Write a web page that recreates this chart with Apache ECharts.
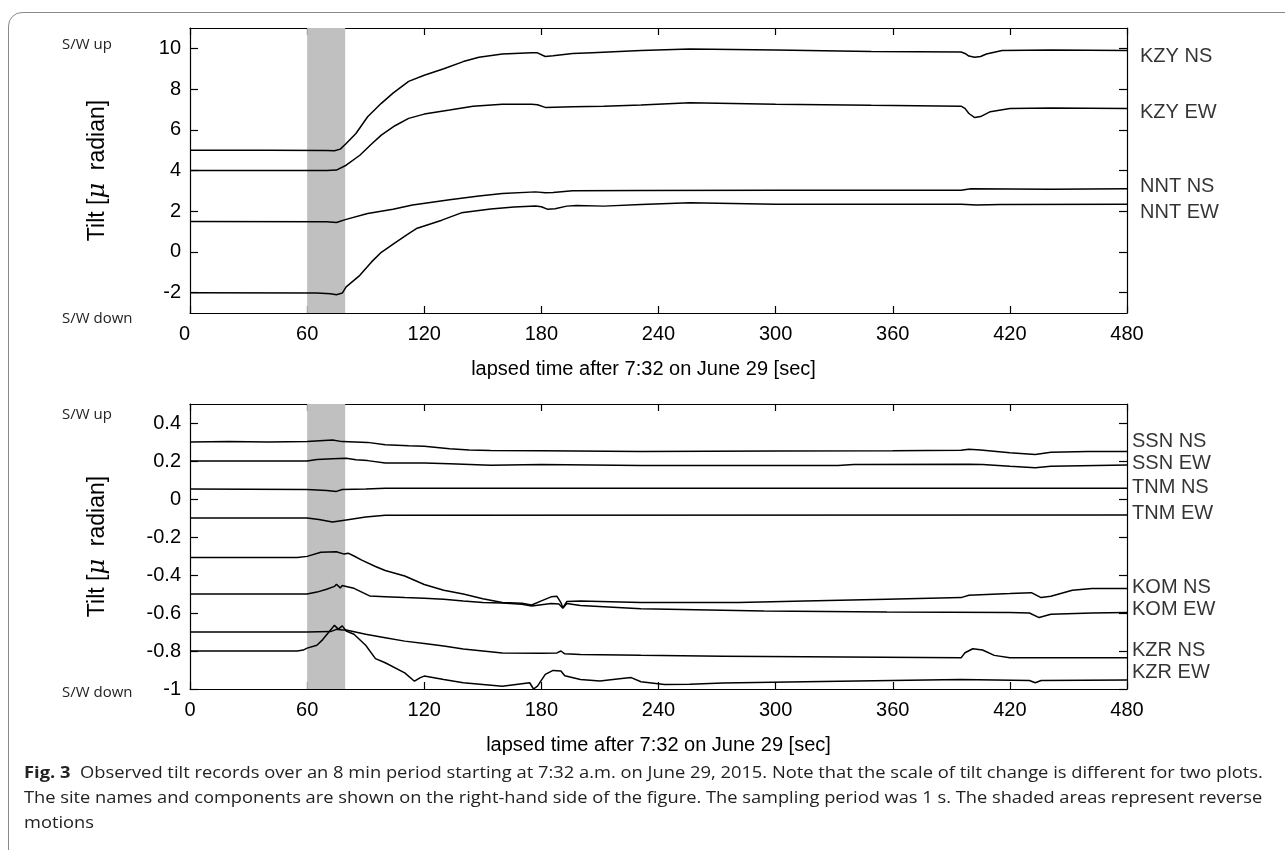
<!DOCTYPE html>
<html>
<head>
<meta charset="utf-8">
<script src="https://cdn.jsdelivr.net/npm/echarts@6/dist/echarts.min.js"></script>
<style>
  html, body { margin: 0; padding: 0; background: #fff; }
  #wrap { position: relative; width: 1285px; height: 850px; overflow: hidden; background: #fff; }
  #frame { position: absolute; left: 8px; top: 12px; width: 1320px; height: 900px; border: 1.5px solid #8a8a8a; border-radius: 14px; box-sizing: border-box; }
  #chart { position: absolute; left: 0; top: 0; width: 1285px; height: 850px; }
  .cap { position: absolute; left: 24px; white-space: nowrap; font-family: "Open Sans", "Noto Sans", sans-serif; font-size: 16px; color: #222; transform-origin: 0 50%; line-height: 20px; }
  .cap b { font-weight: 700; }
</style>
</head>
<body>
<div id="wrap">
  <div id="frame"></div>
  <div id="chart"></div>
  <div class="cap" id="cap1" style="top:762px"><b>Fig. 3</b>&nbsp; Observed tilt records over an 8 min period starting at 7:32 a.m. on June 29, 2015. Note that the scale of tilt change is different for two plots.</div>
  <div class="cap" id="cap2" style="top:787px">The site names and components are shown on the right-hand side of the figure. The sampling period was 1 s. The shaded areas represent reverse</div>
  <div class="cap" id="cap3" style="top:812px">motions</div>
</div>
<script>
// ---------- data ----------
var xTicks = [0, 60, 120, 180, 240, 300, 360, 420, 480];
var topYTicks = [-2, 0, 2, 4, 6, 8, 10];
var botYTicks = [-1, -0.8, -0.6, -0.4, -0.2, 0, 0.2, 0.4];
var shadeSpan = [60, 79.5];

// top panel (micro radian), [seconds, value]
var kzyNS = [[0,5.0],[40,4.99],[70,4.98],[74,4.97],[77,5.05],[80,5.33],[85,5.82],[91,6.64],[98,7.3],[104,7.8],[112,8.38],[120,8.68],[130,9.0],[140,9.35],[148,9.56],[160,9.72],[175,9.79],[178,9.78],[182,9.6],[186,9.64],[196,9.75],[206,9.79],[231,9.89],[256,9.97],[300,9.92],[349,9.85],[395,9.82],[397,9.75],[399,9.62],[402,9.56],[405,9.6],[408,9.72],[416,9.89],[441,9.92],[480,9.89]];
var kzyEW = [[0,4.0],[70,4.0],[75,4.02],[80,4.26],[87,4.75],[93,5.3],[98,5.74],[105,6.2],[112,6.56],[120,6.77],[133,6.97],[145,7.16],[160,7.26],[175,7.25],[178,7.23],[182,7.1],[196,7.13],[212,7.16],[231,7.22],[256,7.33],[300,7.26],[349,7.2],[395,7.16],[397,7.05],[399,6.8],[402,6.6],[405,6.65],[410,6.89],[420,7.05],[441,7.07],[480,7.05]];
var nntNS = [[0,1.5],[70,1.48],[75,1.45],[80,1.6],[91,1.89],[104,2.1],[114,2.3],[133,2.56],[148,2.75],[160,2.87],[177,2.95],[182,2.91],[186,2.92],[196,3.0],[231,3.02],[300,3.03],[395,3.03],[400,3.1],[441,3.08],[480,3.1]];
var nntEW = [[0,-2.0],[65,-2.02],[72,-2.05],[75,-2.1],[78,-2.02],[80,-1.72],[87,-1.15],[93,-0.49],[98,-0.02],[105,0.45],[112,0.9],[116,1.15],[129,1.56],[139,1.92],[154,2.11],[166,2.21],[177,2.26],[180,2.22],[183,2.1],[187,2.12],[193,2.25],[198,2.28],[212,2.25],[231,2.33],[256,2.41],[300,2.34],[395,2.34],[403,2.3],[415,2.33],[480,2.34]];

// bottom panel (micro radian), [seconds, value]
var ssnNS = [[0,0.30],[20,0.302],[40,0.30],[60,0.302],[73,0.31],[78,0.302],[91,0.298],[100,0.285],[112,0.28],[120,0.278],[133,0.264],[143,0.258],[154,0.255],[180,0.254],[231,0.25],[300,0.252],[360,0.254],[395,0.256],[399,0.262],[405,0.258],[420,0.243],[433,0.234],[441,0.246],[460,0.25],[480,0.25]];
var ssnEW = [[0,0.2],[60,0.2],[65,0.208],[73,0.212],[80,0.214],[85,0.206],[91,0.202],[100,0.19],[120,0.19],[133,0.185],[154,0.177],[180,0.182],[231,0.176],[332,0.176],[340,0.182],[399,0.183],[406,0.181],[420,0.172],[433,0.165],[441,0.173],[480,0.179]];
var tnmNS = [[0,0.052],[60,0.05],[70,0.045],[75,0.04],[78,0.05],[90,0.052],[100,0.056],[231,0.057],[480,0.056]];
var tnmEW = [[0,-0.1],[60,-0.1],[66,-0.108],[73,-0.121],[80,-0.11],[90,-0.095],[100,-0.085],[480,-0.084]];
var komNS = [[0,-0.308],[55,-0.308],[60,-0.302],[67,-0.28],[75,-0.278],[79,-0.29],[81,-0.285],[84,-0.3],[88,-0.322],[95,-0.355],[100,-0.376],[110,-0.405],[120,-0.45],[130,-0.48],[140,-0.5],[150,-0.525],[160,-0.545],[170,-0.549],[175,-0.558],[180,-0.536],[185,-0.515],[188,-0.512],[190,-0.545],[191,-0.572],[193,-0.54],[200,-0.537],[231,-0.545],[281,-0.545],[315,-0.537],[357,-0.528],[395,-0.519],[399,-0.507],[420,-0.498],[431,-0.493],[436,-0.519],[441,-0.512],[452,-0.48],[462,-0.471],[480,-0.471]];
var komEW = [[0,-0.5],[60,-0.5],[65,-0.49],[70,-0.475],[74,-0.46],[75,-0.449],[77,-0.468],[78,-0.455],[80,-0.46],[84,-0.47],[88,-0.49],[92,-0.51],[100,-0.514],[110,-0.519],[120,-0.522],[130,-0.528],[140,-0.537],[150,-0.545],[160,-0.548],[170,-0.554],[175,-0.563],[180,-0.556],[185,-0.55],[189,-0.553],[191,-0.575],[193,-0.55],[200,-0.56],[231,-0.577],[294,-0.589],[357,-0.595],[420,-0.598],[430,-0.6],[435,-0.624],[441,-0.607],[462,-0.6],[480,-0.598]];
var kzrNS = [[0,-0.7],[60,-0.7],[72,-0.698],[75,-0.686],[78,-0.69],[80,-0.69],[90,-0.712],[100,-0.73],[110,-0.748],[120,-0.76],[130,-0.774],[140,-0.79],[150,-0.8],[160,-0.81],[180,-0.812],[188,-0.81],[190,-0.8],[192,-0.815],[200,-0.818],[231,-0.823],[273,-0.827],[315,-0.83],[395,-0.836],[397,-0.809],[401,-0.788],[406,-0.795],[412,-0.823],[420,-0.836],[480,-0.836]];
var kzrEW = [[0,-0.8],[55,-0.8],[58,-0.795],[60,-0.785],[65,-0.77],[68,-0.74],[72,-0.69],[74,-0.665],[76,-0.685],[78,-0.668],[80,-0.695],[84,-0.712],[90,-0.77],[95,-0.84],[100,-0.862],[110,-0.915],[115,-0.959],[118,-0.94],[120,-0.932],[130,-0.95],[140,-0.967],[150,-0.976],[160,-0.985],[170,-0.972],[174,-0.967],[176,-1.0],[178,-0.985],[182,-0.923],[186,-0.902],[190,-0.905],[192,-0.93],[200,-0.95],[210,-0.958],[220,-0.946],[226,-0.94],[231,-0.962],[243,-0.976],[256,-0.975],[273,-0.968],[315,-0.962],[395,-0.95],[430,-0.955],[433,-0.967],[436,-0.955],[480,-0.953]];

var topNames = ['KZY NS', 'KZY EW', 'NNT NS', 'NNT EW'];
var topLabelY = [9.6, 6.85, 3.2, 1.92];
var botNames = ['SSN NS', 'SSN EW', 'TNM NS', 'TNM EW', 'KOM NS', 'KOM EW', 'KZR NS', 'KZR EW'];
var botLabelY = [0.302, 0.187, 0.061, -0.075, -0.468, -0.583, -0.799, -0.914];

var xTitle = 'lapsed time after 7:32 on June 29 [sec]';

// ---------- chart ----------
var FONT = '"Liberation Sans", Arial, sans-serif';
var chart = echarts.init(document.getElementById('chart'), null, { renderer: 'canvas' });

var AXLINE = { show: true, onZero: false, lineStyle: { color: '#000', width: 1.2 } };

function xAxes(gi, minAlign, titlePad) {
  return [
    { gridIndex: gi, type: 'value', min: 0, max: 480, interval: 60, position: 'bottom',
      axisLine: AXLINE,
      axisTick: { show: true, inside: true, length: 7, lineStyle: { color: '#000', width: 1.2 } },
      axisLabel: { show: true, margin: 11, color: '#000', fontSize: 20, fontFamily: FONT, alignMinLabel: minAlign },
      splitLine: { show: false },
      name: xTitle, nameLocation: 'middle', nameGap: 46,
      nameTextStyle: { color: '#000', fontSize: 20, fontFamily: FONT, padding: titlePad } },
    { gridIndex: gi, type: 'value', min: 0, max: 480, interval: 60, position: 'top',
      axisLine: AXLINE,
      axisTick: { show: true, inside: true, length: 7, lineStyle: { color: '#000', width: 1.2 } },
      axisLabel: { show: false }, splitLine: { show: false } }
  ];
}
function fmt(v) { return String(Math.round(v * 10) / 10); }
function yAxes(gi, mn, mx, ticks) {
  return [
    { gridIndex: gi, type: 'value', min: mn, max: mx, position: 'left',
      axisLine: AXLINE,
      axisTick: { show: true, inside: true, length: 8, customValues: ticks, lineStyle: { color: '#000', width: 1.2 } },
      axisLabel: { show: true, customValues: ticks, formatter: fmt, margin: 9, color: '#000', fontSize: 20, fontFamily: FONT },
      splitLine: { show: false },
      name: '{t|Tilt [}{m|\u03bc}{t|  radian]}', nameLocation: 'middle', nameRotate: 90, nameGap: 80,
      nameTextStyle: { rich: { t: { fontSize: 23, fontFamily: FONT, color: '#000' }, m: { fontSize: 24, fontFamily: '"DejaVu Serif", serif', fontStyle: 'italic', color: '#000' } } } },
    { gridIndex: gi, type: 'value', min: mn, max: mx, position: 'right',
      axisLine: AXLINE,
      axisTick: { show: true, inside: true, length: 8, customValues: ticks, lineStyle: { color: '#000', width: 1.2 } },
      axisLabel: { show: false }, splitLine: { show: false } }
  ];
}

function lineSeries(data, xi, yi) {
  return { type: 'line', xAxisIndex: xi, yAxisIndex: yi, data: data, showSymbol: false, symbol: 'none',
    lineStyle: { color: '#000', width: 1.5 }, z: 5, silent: true, animation: false };
}
function shadeSeries(xi, yi) {
  return { type: 'line', xAxisIndex: xi, yAxisIndex: yi, data: [], silent: true, z: 3,
    markArea: { silent: true, itemStyle: { color: '#c0c0c0' }, data: [[{ xAxis: shadeSpan[0] }, { xAxis: shadeSpan[1] }]] } };
}
function labelSeries(names, vals, xi, yi, dist) {
  return { type: 'scatter', xAxisIndex: xi, yAxisIndex: yi, symbolSize: 2, itemStyle: { color: 'rgba(0,0,0,0)' }, silent: true, clip: false, z: 6,
    data: names.map(function (n, i) { return { name: n, value: [480, vals[i]] }; }),
    label: { show: true, position: 'right', distance: dist, formatter: '{b}', color: '#000', fontSize: 20, fontFamily: FONT },
    labelLayout: { hideOverlap: false } };
}

var gridTop = { left: 190, top: 28, width: 937, height: 285 };
var gridBot = { left: 190, top: 404, width: 937, height: 285 };
var SWFONT = '15px "Liberation Sans Narrow", "Open Sans", sans-serif';

var option = {
  animation: false,
  backgroundColor: 'transparent',
  grid: [
    Object.assign({ show: false, containLabel: false }, gridTop),
    Object.assign({ show: false, containLabel: false }, gridBot)
  ],
  xAxis: xAxes(0, 'right', [0, 30, 0, 0]).concat(xAxes(1, 'center', [0, 0, 0, 0])),
  yAxis: yAxes(0, -3, 11, topYTicks).concat(yAxes(1, -1, 0.5, botYTicks)),
  series: [
    shadeSeries(0, 0),
    lineSeries(kzyNS, 0, 0), lineSeries(kzyEW, 0, 0), lineSeries(nntNS, 0, 0), lineSeries(nntEW, 0, 0),
    labelSeries(topNames, topLabelY, 0, 0, 12),
    shadeSeries(2, 2),
    lineSeries(ssnNS, 2, 2), lineSeries(ssnEW, 2, 2), lineSeries(tnmNS, 2, 2), lineSeries(tnmEW, 2, 2),
    lineSeries(komNS, 2, 2), lineSeries(komEW, 2, 2), lineSeries(kzrNS, 2, 2), lineSeries(kzrEW, 2, 2),
    labelSeries(botNames, botLabelY, 2, 2, 4)
  ],
  graphic: [
    { type: 'text', left: 62, top: 37, style: { text: 'S/W up', font: SWFONT, fill: '#222' } },
    { type: 'text', left: 62, top: 311, style: { text: 'S/W down', font: SWFONT, fill: '#222' } },
    { type: 'text', left: 62, top: 407, style: { text: 'S/W up', font: SWFONT, fill: '#222' } },
    { type: 'text', left: 62, top: 685, style: { text: 'S/W down', font: SWFONT, fill: '#222' } }
  ]
};
chart.setOption(option);

// fit caption lines to their measured widths in the reference
(function () {
  var c1 = document.getElementById('cap1'), c2 = document.getElementById('cap2'), c3 = document.getElementById('cap3');
  var s1 = 1239 / c1.scrollWidth, s2 = 1238 / c2.scrollWidth;
  c1.style.transform = 'scaleX(' + s1 + ')';
  c2.style.transform = 'scaleX(' + s2 + ')';
  c3.style.transform = 'scaleX(' + s2 + ')';
})();
</script>
</body>
</html>
